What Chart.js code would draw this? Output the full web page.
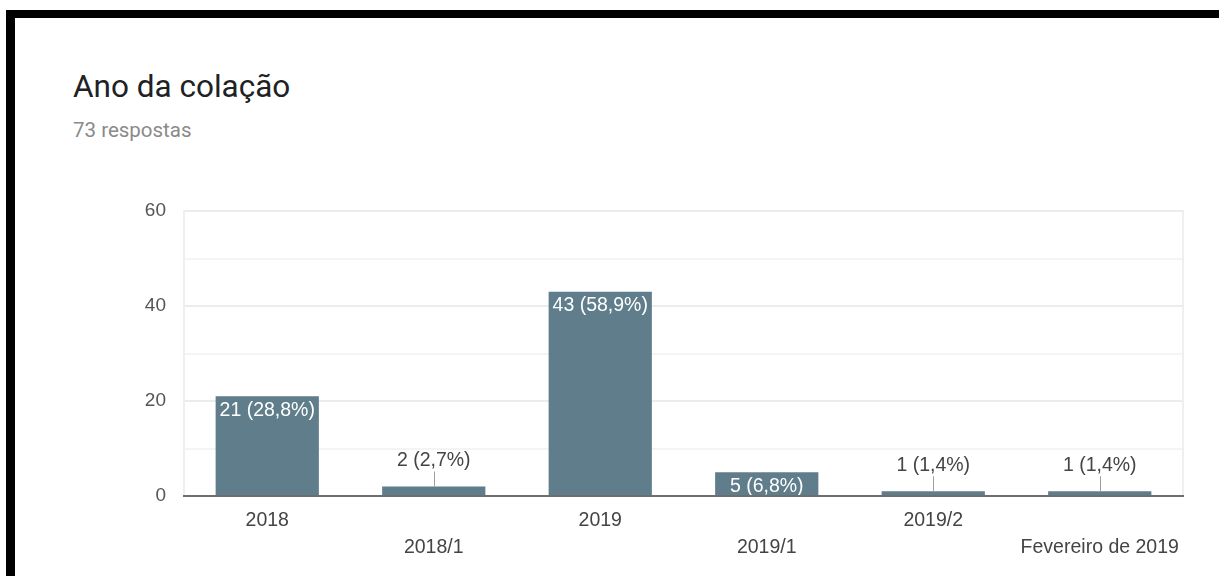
<!DOCTYPE html>
<html lang="pt-BR">
<head>
<meta charset="utf-8">
<title>Ano da colação</title>
<script src="https://cdn.jsdelivr.net/npm/chart.js@4.4.1/dist/chart.umd.min.js"></script>
<style>
  html, body { margin: 0; padding: 0; background: #fff; }
  body { width: 1219px; height: 576px; position: relative; overflow: hidden; }
  .frame-top  { position: absolute; left: 6px; top: 10px; right: 0; height: 8px; background: #000; z-index: 2; }
  .frame-left { position: absolute; left: 6px; top: 10px; width: 9px; bottom: 0; background: #000; z-index: 2; }
  .title { position: absolute; left: 73px; top: 71px; font: 400 31.5px/1 Roboto, sans-serif; color: #202124; white-space: nowrap; }
  .sub   { position: absolute; left: 73px; top: 120px; font: 400 20.5px/1 Roboto, sans-serif; color: #8a8a8a; white-space: nowrap; }
  #chart { position: absolute; left: 0; top: 0; }
</style>
</head>
<body>
<div class="frame-top"></div>
<div class="frame-left"></div>
<div class="title">Ano da colação</div>
<div class="sub" id="sub"></div>
<canvas id="chart" width="1219" height="576"></canvas>
<script>
// Respostas por ano de colação
const categories = ['2018', '2018/1', '2019', '2019/1', '2019/2', 'Fevereiro de 2019'];
const responses = [21, 2, 43, 5, 1, 1];
const totalResponses = 73;
const yTickLabels = [0, 20, 40, 60];

const BAR_COLOR = '#5f7d8a';
const TEXT_FONT = '"Liberation Sans", Arial, sans-serif';

document.getElementById('sub').textContent = totalResponses + ' respostas';

function labelText(v) {
  const pct = (v / totalResponses * 100).toFixed(1).replace('.', ',');
  return `${v} (${pct}%)`;
}

// value labels: white inside tall bars, dark with a leader line above short ones
const barLabels = {
  id: 'barLabels',
  afterDatasetsDraw(chart) {
    const ctx = chart.ctx;
    const meta = chart.getDatasetMeta(0);
    ctx.save();
    ctx.font = `19.5px ${TEXT_FONT}`;
    ctx.textAlign = 'center';
    ctx.textBaseline = 'middle';
    meta.data.forEach((bar, i) => {
      const text = labelText(responses[i]);
      const h = bar.base - bar.y;
      if (h > 20) {
        ctx.fillStyle = '#fff';
        ctx.fillText(text, bar.x, bar.y + 14);
      } else {
        const lx = Math.round(bar.x) + 0.5;
        ctx.strokeStyle = '#9e9e9e';
        ctx.lineWidth = 1;
        ctx.beginPath();
        ctx.moveTo(lx, bar.y);
        ctx.lineTo(lx, bar.y - 15);
        ctx.stroke();
        ctx.fillStyle = '#444';
        ctx.fillText(text, bar.x, bar.y - 26);
      }
    });
    ctx.restore();
  }
};

new Chart(document.getElementById('chart'), {
  type: 'bar',
  data: {
    labels: categories,
    datasets: [{
      data: responses,
      backgroundColor: BAR_COLOR,
      borderWidth: 0,
      categoryPercentage: 1,
      barPercentage: 0.62
    }]
  },
  options: {
    responsive: false,
    animation: false,
    layout: { padding: { top: 211, right: 36, left: 0, bottom: 0 } },
    plugins: { legend: { display: false }, tooltip: { enabled: false } },
    scales: {
      x: {
        grid: { display: false },
        border: { color: '#6e6e6e', width: 2, z: 1 },
        ticks: {
          autoSkip: false, maxRotation: 0, minRotation: 0, padding: 3,
          color: '#444',
          font: { family: TEXT_FONT, size: 19.5, lineHeight: 1.385 },
          // alternate labels drop to a second row
          callback: (v, i) => i % 2 === 0 ? [categories[i]] : ['', categories[i]]
        },
        afterFit: s => { s.height = 80; }
      },
      y: {
        min: 0, max: 60,
        grid: {
          drawTicks: false, lineWidth: 2,
          color: c => c.tick.value === 0 ? 'rgba(0,0,0,0)' : (yTickLabels.includes(c.tick.value) ? '#ececec' : '#f4f4f4')
        },
        border: { color: '#efefef', width: 2 },
        ticks: {
          stepSize: 10, padding: 18, color: '#555',
          font: { family: TEXT_FONT, size: 19 },
          callback: v => yTickLabels.includes(v) ? String(v) : ''
        },
        afterFit: s => { s.width = 184; }
      },
      yRight: {
        position: 'right',
        grid: { display: false },
        ticks: { display: false },
        border: { color: '#efefef', width: 2 },
        afterFit: s => { s.width = 0; }
      }
    }
  },
  plugins: [barLabels]
});
</script>
</body>
</html>
